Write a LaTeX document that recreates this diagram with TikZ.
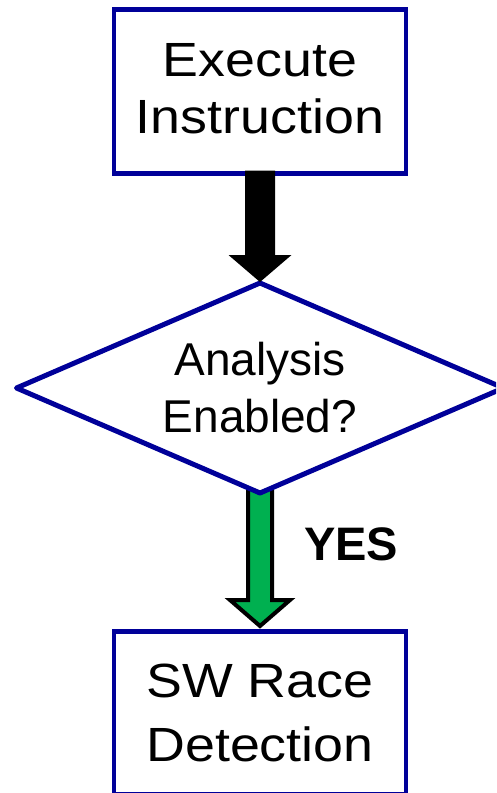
\documentclass[tikz,border=0pt]{standalone}
\usepackage{fontspec}
\setmainfont{Liberation Sans}
\newfontfamily\boxfont{Liberation Sans}[FakeStretch=1.12]
\usetikzlibrary{shapes.geometric,calc,backgrounds}
\definecolor{navy}{RGB}{0,0,153}
\definecolor{okgreen}{RGB}{0,176,80}
\tikzset{
  box/.style={draw=navy, line width=4.5pt, fill=white, outer sep=0pt, inner sep=0pt,
    minimum width=292pt, align=center},
  decision/.style={diamond, draw=navy, line width=5pt, fill=white, outer sep=0pt, inner sep=0pt,
    line join=round, shape aspect=2.32, minimum width=487pt, minimum height=210pt, align=center},
}
\begin{document}
\begin{tikzpicture}[x=1pt,y=-1pt]
\useasboundingbox (0,0) rectangle (496,793);
\clip (0,0) rectangle (496,793);
\node[box, minimum height=164pt, text depth=7pt, font=\boxfont\fontsize{48}{57}\selectfont] (exec) at (260,91.5) {Execute\\Instruction};
\node[decision, font=\fontsize{46}{57}\selectfont] (dec) at (260,388) {Analysis\\Enabled?};
\node[box, minimum height=162.5pt, font=\boxfont\fontsize{48}{64}\selectfont] (race) at (260,712.75) {SW Race\\Detection};
\node[anchor=base west, inner sep=0pt, font=\fontsize{47}{56}\selectfont\bfseries] (yes) at (304,560) {YES};
% black arrow
\fill[black] ($(exec.south)+(-15,-3)$) -- ($(exec.south)+(15,-3)$)
  -- ($(dec.north)+(15,-28)$) -- ($(dec.north)+(31.5,-28)$) -- ($(dec.north)+(0,-1)$)
  -- ($(dec.north)+(-31.5,-28)$) -- ($(dec.north)+(-15,-28)$) -- cycle;
% green arrow
\begin{scope}[on background layer]
\filldraw[fill=okgreen, draw=black, line width=4pt, line join=miter]
  ($(dec.south)+(-12,-10)$) -- ($(dec.south)+(12,-10)$)
  -- ($(race.north)+(12,-31.5)$) -- ($(race.north)+(30,-31.5)$) -- ($(race.north)+(0,-5.5)$)
  -- ($(race.north)+(-30,-31.5)$) -- ($(race.north)+(-12,-31.5)$) -- cycle;
\end{scope}
\end{tikzpicture}
\end{document}
